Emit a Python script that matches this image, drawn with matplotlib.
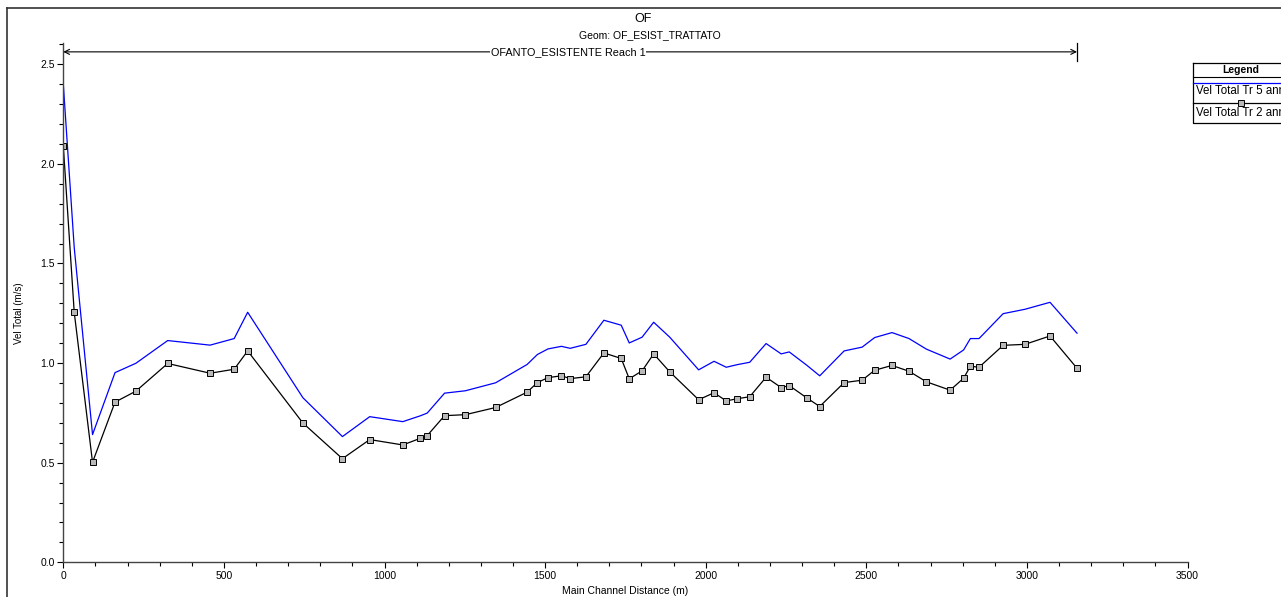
import matplotlib
matplotlib.use("Agg")
import matplotlib.pyplot as plt
from matplotlib.lines import Line2D
from matplotlib.ticker import MultipleLocator, FormatStrFormatter

plt.rcParams['font.family'] = ['Liberation Sans', 'DejaVu Sans']

# main channel distance (m)
dist = [0, 34, 91, 161, 226, 325, 457, 532, 574, 746,
        869, 954, 1057, 1111, 1133, 1187, 1252, 1346, 1444, 1476,
        1509, 1551, 1578, 1627, 1683, 1737, 1762, 1802, 1838, 1888,
        1978, 2026, 2064, 2098, 2137, 2188, 2235, 2260, 2314, 2355,
        2431, 2487, 2526, 2580, 2633, 2687, 2761, 2803, 2824, 2851,
        2926, 2994, 3072, 3156]
# Vel Total Tr 5 anni
vel_tr5 = [2.40, 1.58, 0.641, 0.952, 0.999, 1.113, 1.09, 1.123, 1.255, 0.826,
           0.631, 0.731, 0.706, 0.735, 0.749, 0.849, 0.861, 0.901, 0.993, 1.043,
           1.071, 1.084, 1.074, 1.094, 1.215, 1.190, 1.101, 1.130, 1.205, 1.13,
           0.966, 1.009, 0.979, 0.992, 1.004, 1.098, 1.046, 1.056, 0.99, 0.936,
           1.061, 1.08, 1.128, 1.153, 1.123, 1.07, 1.02, 1.066, 1.123, 1.123,
           1.248, 1.27, 1.305, 1.15]
# Vel Total Tr 2 anni
vel_tr2 = [2.09, 1.255, 0.502, 0.804, 0.859, 0.998, 0.949, 0.969, 1.061, 0.699,
           0.52, 0.616, 0.589, 0.622, 0.636, 0.736, 0.741, 0.777, 0.854, 0.902,
           0.927, 0.936, 0.922, 0.931, 1.051, 1.023, 0.921, 0.961, 1.046, 0.956,
           0.816, 0.851, 0.81, 0.821, 0.831, 0.929, 0.877, 0.887, 0.826, 0.782,
           0.902, 0.914, 0.964, 0.988, 0.959, 0.906, 0.864, 0.924, 0.984, 0.979,
           1.089, 1.094, 1.136, 0.974]

W, H = 1281, 597
fig = plt.figure(figsize=(W / 100, H / 100), dpi=100)
ax = fig.add_axes([63.3 / W, 1 - 562.3 / H, (1187.5 - 63.3) / W, (562.3 - 43.3) / H])

ax.plot(dist, vel_tr5, color='#0000ff', lw=0.9)
ax.plot(dist, vel_tr2, color='black', lw=0.9, marker='s', ms=3.8,
        mfc='#b8b8b8', mec='black', mew=0.7)

ax.set_xlim(0, 3500)
ax.set_ylim(0, 2.605)
for s in ['top', 'right']:
    ax.spines[s].set_visible(False)
for s in ['left', 'bottom']:
    ax.spines[s].set_color('#444444')
    ax.spines[s].set_linewidth(1)

ax.xaxis.set_major_locator(MultipleLocator(500))
ax.xaxis.set_minor_locator(MultipleLocator(100))
ax.yaxis.set_major_locator(MultipleLocator(0.5))
ax.yaxis.set_minor_locator(MultipleLocator(0.1))
ax.yaxis.set_major_formatter(FormatStrFormatter('%.1f'))
ax.tick_params(which='major', length=4, width=0.8, labelsize=7.5, pad=2)
ax.tick_params(which='minor', length=3, width=0.8)

# reach arrow
ax.annotate('', xy=(0, 2.562), xytext=(3156, 2.562),
            arrowprops=dict(arrowstyle='<->', color='black', lw=0.8,
                            shrinkA=0, shrinkB=0, mutation_scale=9),
            annotation_clip=False)
ax.plot([3156, 3156], [2.515, 2.605], color='black', lw=0.9, clip_on=False)
ax.text(1572, 2.562, 'OFANTO_ESISTENTE Reach 1', ha='center', va='center',
        fontsize=7.8, bbox=dict(facecolor='white', edgecolor='none', pad=0.5))

# titles and labels
fig.text(643 / W, 1 - 19 / H, 'OF', ha='center', va='center', fontsize=9)
fig.text(650 / W, 1 - 35 / H, 'Geom: OF_ESIST_TRATTATO', ha='center', va='center', fontsize=7.5)
fig.text(625 / W, 1 - 591 / H, 'Main Channel Distance (m)', ha='center', va='center', fontsize=7.5)
fig.text(19 / W, 1 - 313 / H, 'Vel Total (m/s)', ha='center', va='center', fontsize=7, rotation=90)

# outer frame
fig.add_artist(Line2D([7.3 / W, 7.3 / W], [0, 1 - 8.3 / H], color='#333333', lw=1.2))
fig.add_artist(Line2D([7.3 / W, 1], [1 - 8.3 / H, 1 - 8.3 / H], color='#333333', lw=1.2))

# legend box
lx0, lx1 = 1193.3 / W, 1.02
ly_top, ly_bot = 1 - 63.3 / H, 1 - 123.3 / H
fig.add_artist(Line2D([lx0, lx1, lx1, lx0, lx0], [ly_top, ly_top, ly_bot, ly_bot, ly_top],
                      color='black', lw=0.9))
fig.add_artist(Line2D([lx0, lx1], [1 - 76.7 / H] * 2, color='black', lw=0.8))
fig.text(1240.7 / W, 1 - 70 / H, 'Legend', ha='center', va='center', fontsize=7.5, fontweight='bold')
fig.add_artist(Line2D([lx0, lx1], [1 - 83.3 / H] * 2, color='#0000ff', lw=0.9))
fig.text(1196 / W, 1 - 90.5 / H, 'Vel Total Tr 5 anni', ha='left', va='center', fontsize=8.3)
fig.add_artist(Line2D([lx0, lx1], [1 - 103.3 / H] * 2, color='black', lw=0.9))
fig.add_artist(Line2D([1240.7 / W], [1 - 103.3 / H], marker='s', ms=3.8,
                      mfc='#b8b8b8', mec='black', mew=0.7))
fig.text(1196 / W, 1 - 112.5 / H, 'Vel Total Tr 2 anni', ha='left', va='center', fontsize=8.3)

fig.savefig('out.png', dpi=100)
